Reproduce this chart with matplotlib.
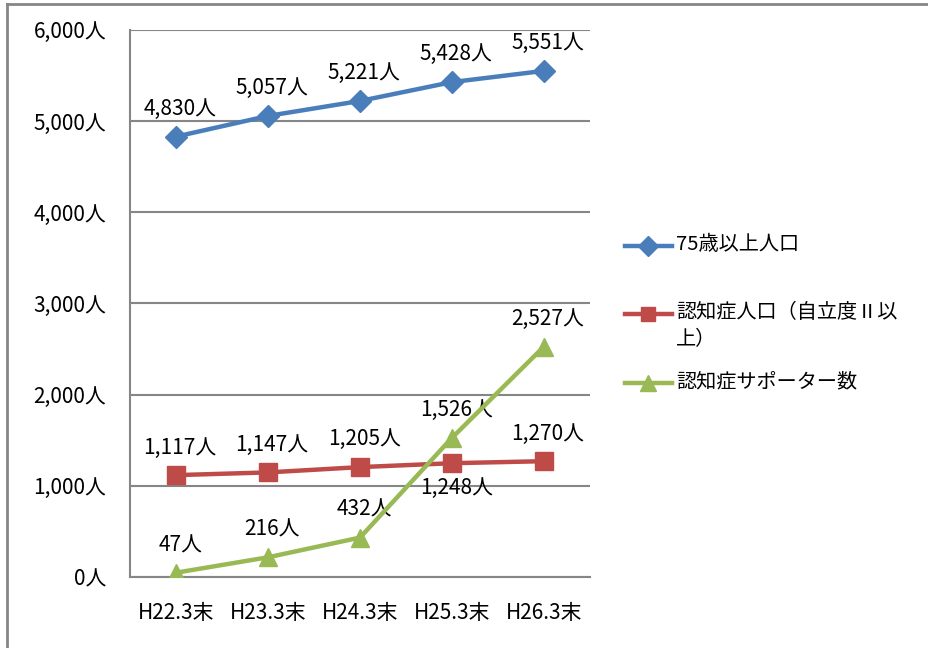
import matplotlib.pyplot as plt
from matplotlib.lines import Line2D

plt.rcParams['font.family'] = ['Noto Sans CJK JP', 'DejaVu Sans']

# years (end of March) and counts
years = ['H22.3末', 'H23.3末', 'H24.3末', 'H25.3末', 'H26.3末']
pop75 = [4830, 5057, 5221, 5428, 5551]
dementia = [1117, 1147, 1205, 1248, 1270]
supporters = [47, 216, 432, 1526, 2527]

series_names = ['75歳以上人口', '認知症人口（自立度Ⅱ以\n上）', '認知症サポーター数']
yticks = [0, 1000, 2000, 3000, 4000, 5000, 6000]

W, H = 929, 648
fig = plt.figure(figsize=(W / 100, H / 100), dpi=100)
ax = fig.add_axes([0.140, 0.1096, 0.495, 0.8442])

styles = [('#4a7ebb', 'D', 11.5), ('#be4b48', 's', 12.5), ('#98b954', '^', 13)]
x = list(range(len(years)))
for vals, (c, m, ms), z in zip([pop75, dementia, supporters], styles, [3, 3, 4]):
    ax.plot(x, vals, color=c, lw=3.2, marker=m, ms=ms, zorder=z)

def lab(v):
    return f'{v:,}人'

fs = 15
for xi, v in zip(x, pop75):
    ax.annotate(lab(v), (xi, v), xytext=(3, 12), textcoords='offset points',
                ha='center', va='bottom', fontsize=fs)
for i, (xi, v) in enumerate(zip(x, dementia)):
    if i == 3:
        ax.annotate(lab(v), (xi, v), xytext=(3, -10), textcoords='offset points',
                    ha='center', va='top', fontsize=fs)
    else:
        ax.annotate(lab(v), (xi, v), xytext=(3, 12), textcoords='offset points',
                    ha='center', va='bottom', fontsize=fs)
for xi, v in zip(x, supporters):
    ax.annotate(lab(v), (xi, v), xytext=(3, 12), textcoords='offset points',
                ha='center', va='bottom', fontsize=fs)

ax.set_xlim(-0.5, 4.5)
ax.set_ylim(0, 6000)
ax.set_yticks(yticks)
ax.set_yticklabels([lab(v) for v in yticks], fontsize=fs)
ax.set_xticks(x)
ax.set_xticklabels(years, fontsize=fs)
ax.tick_params(axis='y', length=0, pad=17)
ax.tick_params(axis='x', length=0, pad=18)
ax.yaxis.grid(True, color='#868686', lw=1.5)
ax.set_axisbelow(True)
for s in ['top', 'right']:
    ax.spines[s].set_visible(False)
for s in ['left', 'bottom']:
    ax.spines[s].set_color('#868686')
    ax.spines[s].set_linewidth(1.5)

# legend, laid out by hand (pixel positions)
leg_rows = [246, 314, 383]
for (c, m, ms), name, yp in zip(styles, series_names, leg_rows):
    yf = 1 - yp / H
    fig.add_artist(Line2D([625 / W, 672 / W], [yf, yf], transform=fig.transFigure,
                          color=c, lw=3.2))
    fig.add_artist(Line2D([648.5 / W], [yf], transform=fig.transFigure,
                          color=c, marker=m, ms=ms * 0.85, lw=0))
    fig.text(676 / W, 1 - (yp - 12) / H, name, fontsize=14.5, ha='left', va='top',
             linespacing=1.35)

# outer frame
fig.add_artist(Line2D([7 / W, 1], [1 - 4 / H, 1 - 4 / H],
                      transform=fig.transFigure, color='#868686', lw=2))
fig.add_artist(Line2D([7 / W, 7 / W], [0, 1 - 4 / H],
                      transform=fig.transFigure, color='#868686', lw=2))

fig.savefig('out.png', dpi=100)
